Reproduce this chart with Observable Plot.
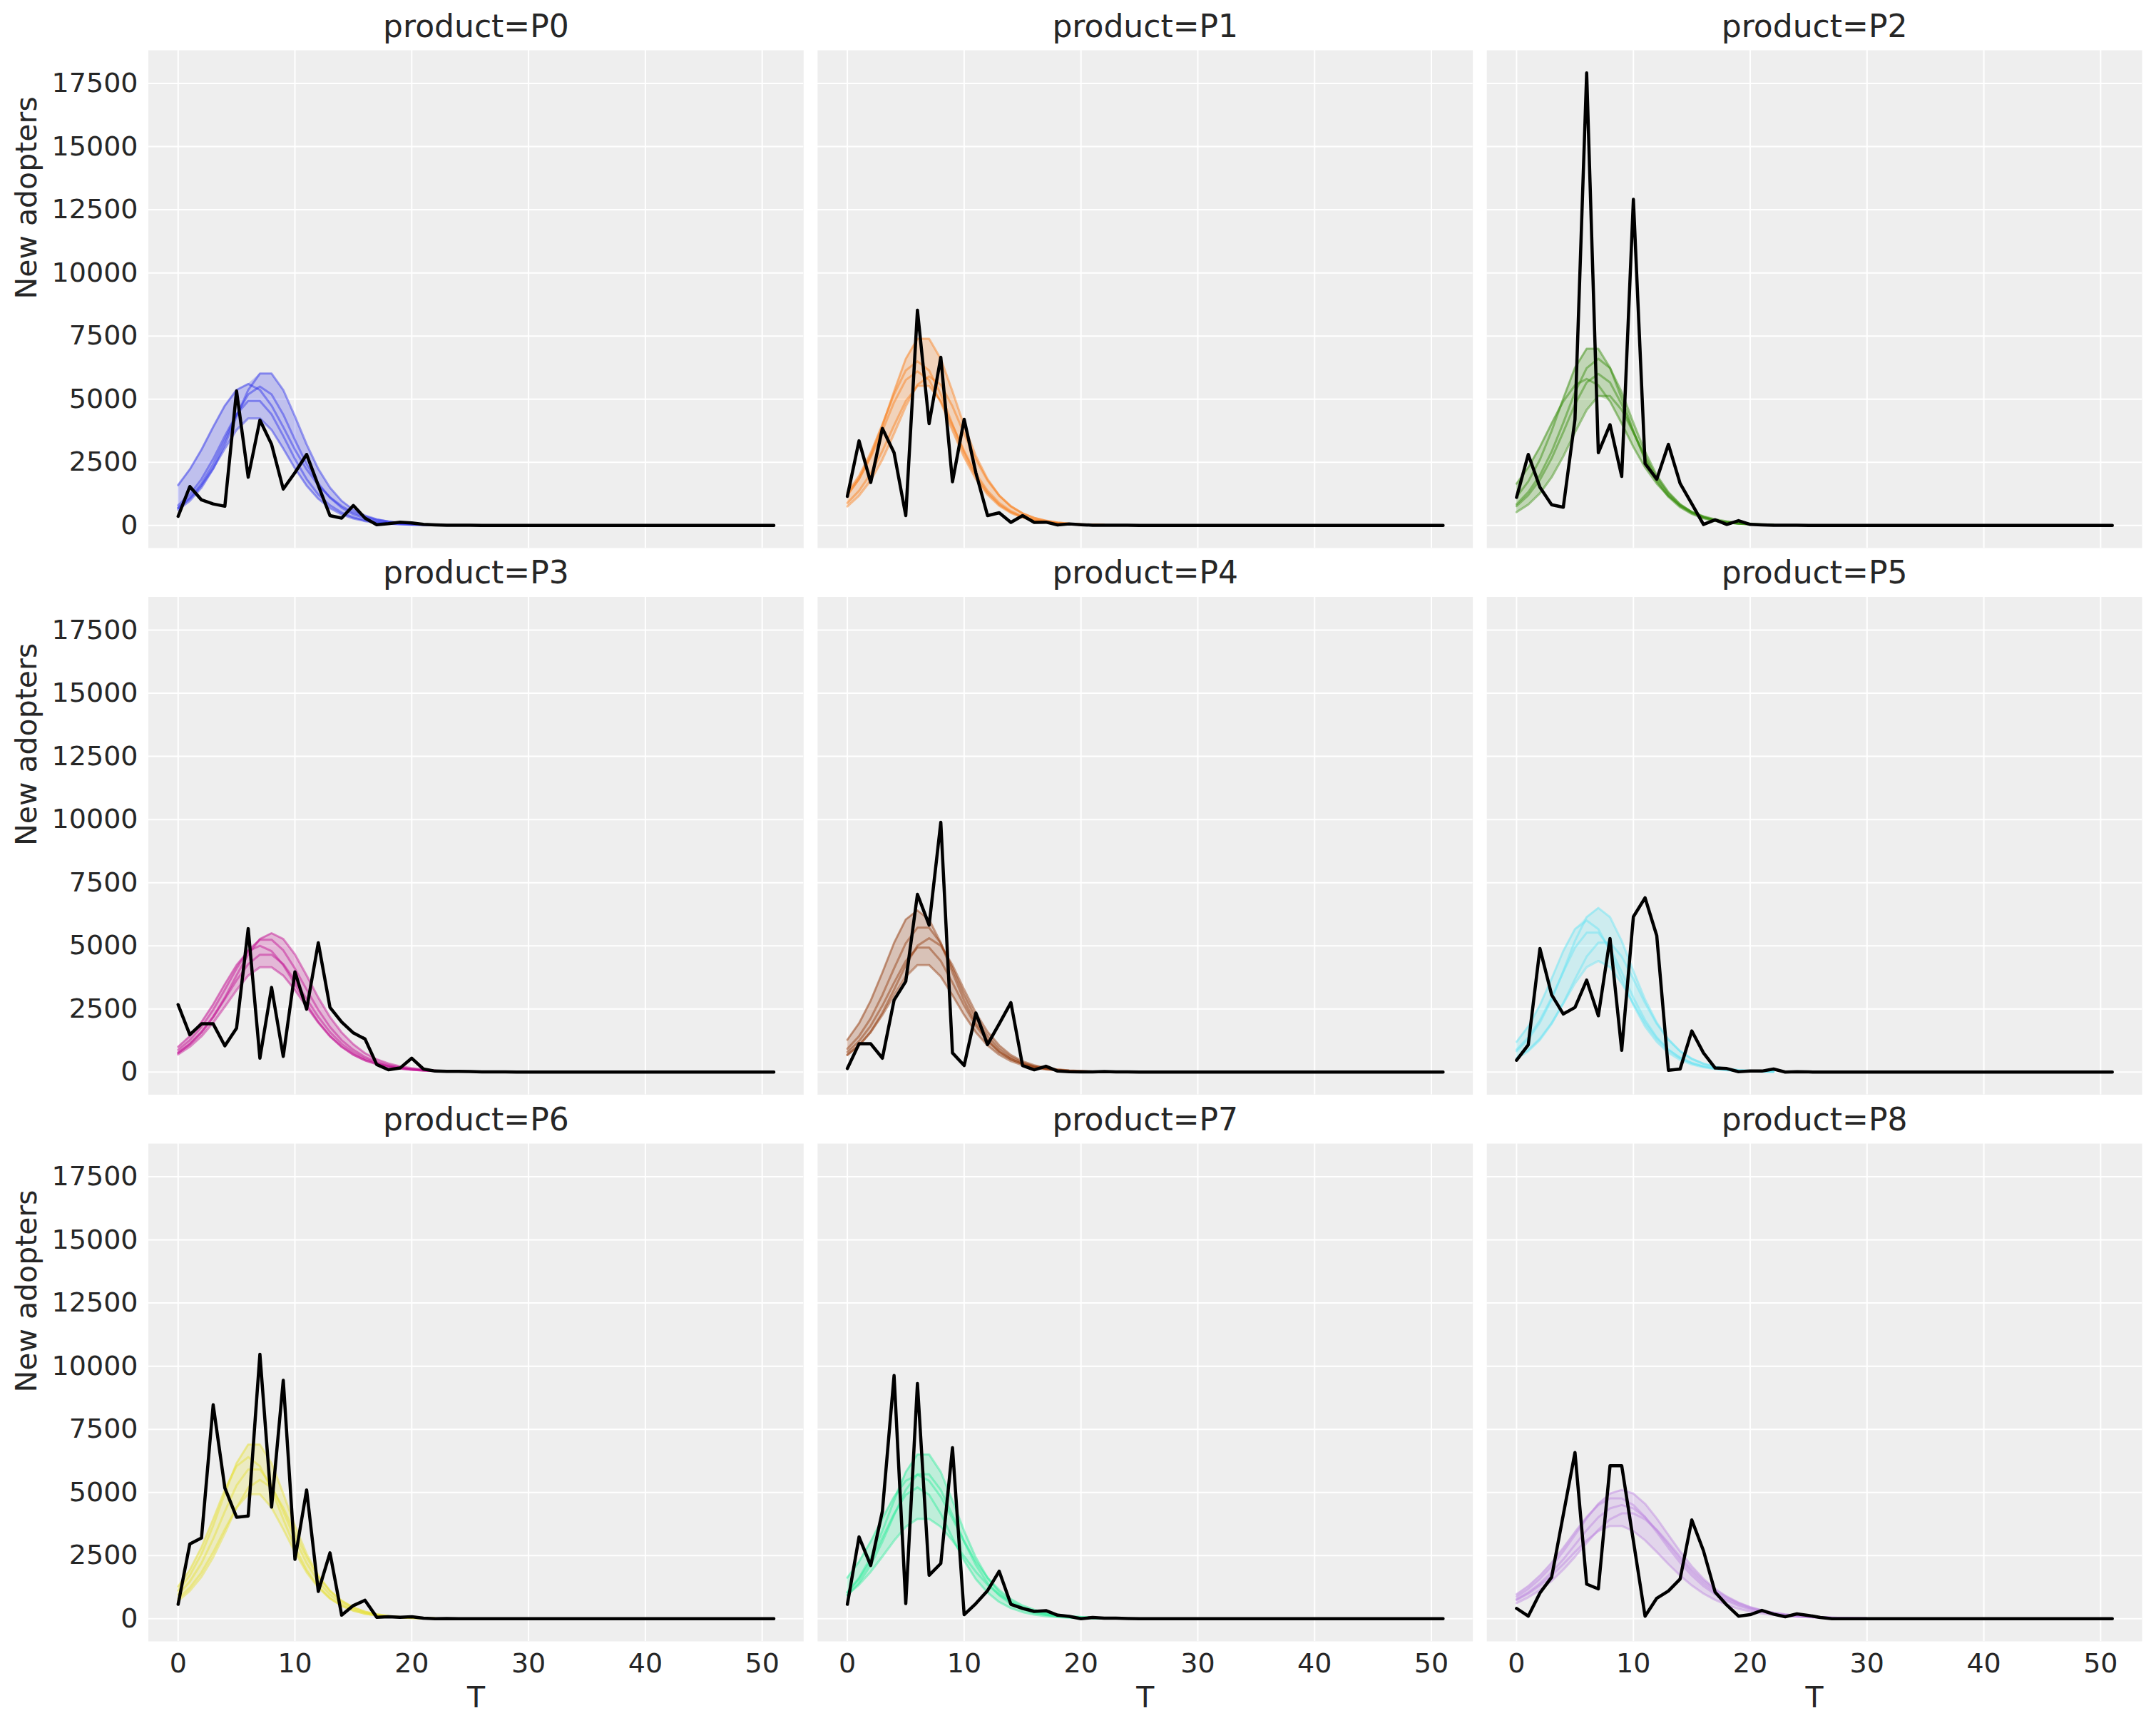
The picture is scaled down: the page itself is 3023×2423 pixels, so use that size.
<!DOCTYPE html>
<html>
<head>
<meta charset="utf-8">
<script src="https://cdn.jsdelivr.net/npm/d3@7"></script>
<script src="https://cdn.jsdelivr.net/npm/@observablehq/plot@0.6"></script>
<style>
  html, body { margin: 0; padding: 0; background: #ffffff; }
  svg { display: block; }
</style>
</head>
<body>
<div id="chart"></div>
<script>
// ---- categories, ticks, colours ----
const products = ["P0", "P1", "P2", "P3", "P4", "P5", "P6", "P7", "P8"];
const productColors = ["#2a2eec", "#fa7c17", "#328c06", "#c10c90", "#933708", "#65e5f3", "#e6e135", "#29ee9a", "#bd85e0"];
const xTicks = [0, 10, 20, 30, 40, 50];
const yTicks = [0, 2500, 5000, 7500, 10000, 12500, 15000, 17500];

// ---- observed new adopters (black line), T = 0..51 ----
const obsP0 = [360,1540,1010,850,760,5320,1910,4170,3210,1440,2090,2810,1580,390,290,790,290,30,70,130,100,40,20,10,10,5,
  0,0,0,0,0,0,0,0,0,0,0,0,0, 0,0,0,0,0,0,0,0,0,0,0,0,0];
const obsP1 = [1150,3350,1700,3840,2880,390,8520,4030,6660,1730,4200,2090,390,500,120,390,120,130,20,60,30,10,10,5,5,0,
  0,0,0,0,0,0,0,0,0,0,0,0,0, 0,0,0,0,0,0,0,0,0,0,0,0,0];
const obsP2 = [1110,2810,1510,820,720,4200,17918,2880,3990,1940,12910,2450,1830,3210,1660,860,40,220,40,190,40,20,10,5,5,0,
  0,0,0,0,0,0,0,0,0,0,0,0,0, 0,0,0,0,0,0,0,0,0,0,0,0,0];
const obsP3 = [2670,1480,1910,1910,1040,1740,5680,550,3350,620,3970,2490,5120,2560,1980,1550,1310,300,90,160,550,120,40,30,30,20,
  10,10,5,0,0,0,0,0,0,0,0,0,0, 0,0,0,0,0,0,0,0,0,0,0,0,0];
const obsP4 = [140,1120,1120,550,2850,3590,7040,5820,9890,760,260,2340,1090,1910,2750,260,90,230,40,15,10,10,20,10,5,0,
  0,0,0,0,0,0,0,0,0,0,0,0,0, 0,0,0,0,0,0,0,0,0,0,0,0,0];
const obsP5 = [470,1080,4890,3060,2300,2560,3640,2230,5290,860,6150,6900,5400,70,120,1630,760,160,140,15,40,40,120,0,15,5,
  0,0,0,0,0,0,0,0,0,0,0,0,0, 0,0,0,0,0,0,0,0,0,0,0,0,0];
const obsP6 = [570,2960,3200,8470,5180,4020,4070,10470,4420,9440,2350,5100,1080,2610,140,520,730,60,80,60,80,20,0,10,0,0,
  0,0,0,0,0,0,0,0,0,0,0,0,0, 0,0,0,0,0,0,0,0,0,0,0,0,0];
const obsP7 = [570,3240,2110,4260,9630,600,9310,1720,2190,6770,160,600,1110,1880,570,410,290,320,140,90,0,50,20,20,10,0,
  0,0,0,0,0,0,0,0,0,0,0,0,0, 0,0,0,0,0,0,0,0,0,0,0,0,0];
const obsP8 = [410,100,1020,1640,4120,6580,1370,1180,6060,6060,3080,100,810,1100,1570,3910,2690,1050,540,100,160,330,180,80,190,130,50,0,
  0,0,0,0,0,0,0,0,0,0,0,0, 0,0,0,0,0,0,0,0,0,0,0,0];

// ---- posterior predictive sample curves (coloured lines), T = 0.. ----
const postP0 = [
  [1596,2218,3002,3898,4743,5365,5600,5365,4743,3898,3002,2218,1596,1120,762,515,347,230,157,101,67,45,28],
  [619,971,1496,2237,3209,4319,5365,6012,6012,5365,4319,3209,2237,1496,971,619,389,243,153,95,59,36,22],
  [684,1054,1577,2262,3045,3782,4238,4238,3782,3045,2262,1577,1054,684,436,274,171,108,67,41,25,15,9],
  [796,1226,1834,2631,3541,4398,4928,4928,4398,3541,2631,1834,1226,796,507,319,199,126,78,48,30,18,11],
  [701,1098,1657,2431,3386,4394,5191,5500,5191,4394,3386,2431,1657,1098,701,443,279,173,107,67,41,25,16]
];
const postP1 = [
  [1193,1839,2750,3946,5311,6596,7391,7391,6596,5311,3946,2750,1839,1193,761,479,299,188,116,72,44,27,17],
  [1298,1958,2873,4001,5193,6135,6500,6135,5193,4001,2873,1958,1298,828,524,330,204,127,79,49,30,19,12],
  [891,1373,2054,2946,3965,4925,5519,5519,4925,3965,2946,2054,1373,891,568,357,223,141,87,54,33,20,12],
  [1218,1838,2696,3755,4873,5757,6100,5757,4873,3755,2696,1838,1218,777,492,309,192,119,74,46,28,18,11],
  [752,1178,1778,2608,3632,4714,5568,5900,5568,4714,3632,2608,1778,1178,752,476,299,185,115,71,44,27,17]
];
const postP2 = [
  [1130,1741,2604,3735,5028,6244,6997,6997,6244,5028,3735,2604,1741,1130,720,453,283,178,110,68,42,26,16],
  [764,1198,1808,2652,3694,4793,5663,6000,5663,4793,3694,2652,1808,1198,764,484,304,188,117,73,45,28,17],
  [527,827,1275,1907,2736,3682,4573,5125,5125,4573,3682,2736,1907,1275,827,527,332,207,131,81,50,31,19],
  [841,1318,1989,2917,4063,5273,6229,6600,6229,5273,4063,2917,1989,1318,841,532,335,207,129,80,50,30,19],
  [1653,2297,3109,4037,4913,5556,5800,5556,4913,4037,3109,2297,1653,1160,789,534,360,238,162,104,70,46,29]
];
const postP3 = [
  [748,1100,1568,2178,2948,3828,4659,5269,5500,5269,4659,3828,2948,2178,1568,1100,748,506,341,226,154,99,66],
  [880,1261,1786,2465,3265,4097,4823,5242,5242,4823,4097,3265,2465,1786,1261,880,594,408,270,180,117,80,53],
  [697,1000,1415,1953,2587,3247,3822,4154,4154,3822,3247,2587,1953,1415,1000,697,470,323,214,143,92,63,42],
  [780,1119,1584,2185,2895,3633,4277,4648,4648,4277,3633,2895,2185,1584,1119,780,526,362,240,160,103,71,47],
  [1000,1425,1980,2680,3480,4235,4790,5000,4790,4235,3480,2680,1980,1425,1000,680,460,310,205,140,90,60,40]
];
const postP4 = [
  [1278,1928,2829,3940,5113,6040,6400,6040,5113,3940,2829,1928,1278,815,516,324,200,125,77,48,29,18,12],
  [923,1422,2127,3051,4107,5101,5716,5716,5101,4107,3051,2127,1422,923,588,370,231,146,90,56,34,21,13],
  [684,1054,1577,2262,3045,3782,4238,4238,3782,3045,2262,1577,1054,684,436,274,171,108,67,41,25,15,9],
  [675,1058,1597,2343,3263,4234,5002,5300,5002,4234,3263,2343,1597,1058,675,427,269,167,103,64,40,24,15],
  [796,1226,1834,2631,3541,4398,4928,4928,4398,3541,2631,1834,1226,796,507,319,199,126,78,48,30,18,11]
];
const postP5 = [
  [828,1298,1958,2873,4001,5193,6135,6500,6135,5193,4001,2873,1958,1298,828,524,330,204,127,79,49,30,19],
  [891,1373,2054,2946,3965,4925,5519,5519,4925,3965,2946,2054,1373,891,568,357,223,141,87,54,33,20,12],
  [561,879,1326,1945,2709,3515,4153,4400,4153,3515,2709,1945,1326,879,561,355,223,138,86,53,33,20,13],
  [1198,1808,2652,3694,4793,5663,6000,5663,4793,3694,2652,1808,1198,764,484,304,188,117,73,45,28,17,11],
  [527,827,1275,1907,2736,3682,4573,5125,5125,4573,3682,2736,1907,1275,827,527,332,207,131,81,50,31,19]
];
const postP6 = [
  [1114,1716,2567,3683,4957,6157,6899,6899,6157,4957,3683,2567,1716,1114,710,447,279,176,109,67,41,25,15],
  [1278,1928,2829,3940,5113,6040,6400,6040,5113,3940,2829,1928,1278,815,516,324,200,125,77,48,29,18,12],
  [796,1226,1834,2631,3541,4398,4928,4928,4398,3541,2631,1834,1226,796,507,319,199,126,78,48,30,18,11],
  [701,1098,1657,2431,3386,4394,5191,5500,5191,4394,3386,2431,1657,1098,701,443,279,173,107,67,41,25,16],
  [955,1471,2200,3157,4249,5277,5913,5913,5277,4249,3157,2200,1471,955,608,383,239,151,93,58,35,22,13]
];
const postP7 = [
  [1050,1618,2421,3472,4674,5805,6504,6504,5805,4674,3472,2421,1618,1050,669,421,263,166,102,63,39,24,14],
  [1625,2257,3055,3967,4828,5461,5700,5461,4828,3967,3055,2257,1625,1140,775,524,353,234,160,103,68,46,29],
  [952,1348,1860,2464,3092,3640,3956,3956,3640,3092,2464,1860,1348,952,664,448,308,204,136,88,60,40,26],
  [1038,1567,2298,3201,4154,4908,5200,4908,4154,3201,2298,1567,1038,663,419,264,163,101,63,39,24,15,9],
  [923,1422,2127,3051,4107,5101,5716,5716,5101,4107,3051,2127,1422,923,588,370,231,146,90,56,34,21,13]
];
const postP8 = [
  [878,1181,1580,2077,2665,3316,3971,4553,4955,5100,4955,4553,3971,3316,2665,2077,1580,1181,878,638,463,334,239,172,123,88,63,44,32,22,16],
  [774,1042,1394,1833,2351,2926,3504,4017,4372,4500,4372,4017,3504,2926,2351,1833,1394,1042,774,563,408,294,211,152,108,77,55,39,28,20,14],
  [744,996,1319,1711,2161,2645,3104,3469,3673,3673,3469,3104,2645,2161,1711,1319,996,744,546,394,286,206,147,105,75,54,38,27,20,14,10],
  [620,845,1131,1498,1942,2453,3002,3523,3938,4170,4170,3938,3523,3002,2453,1942,1498,1131,845,620,447,324,234,167,120,86,61,44,31,22,16],
  [966,1292,1712,2220,2804,3431,4027,4501,4765,4765,4501,4027,3431,2804,2220,1712,1292,966,708,511,371,267,191,137,98,70,50,35,25,18,13]
];

// ---- tables built from the arrays ----
const obsList = [obsP0, obsP1, obsP2, obsP3, obsP4, obsP5, obsP6, obsP7, obsP8];
const postList = [postP0, postP1, postP2, postP3, postP4, postP5, postP6, postP7, postP8];

const obsRows = [], postRows = [], bandRows = [], panelRows = [];
products.forEach((p, i) => {
  const col = i % 3, row = Math.floor(i / 3);
  panelRows.push({product: p, col, row});
  obsList[i].forEach((v, t) => obsRows.push({product: p, col, row, T: t, value: v}));
  postList[i].forEach((s, k) => s.forEach((v, t) =>
    postRows.push({product: p, col, row, key: p + "-" + k, T: t, value: v})));
  const n = d3.max(postList[i], s => s.length);
  for (let t = 0; t < n; t++) {
    const vals = postList[i].map(s => s[t]).filter(v => v != null);
    bandRows.push({product: p, col, row, T: t, lo: d3.min(vals), hi: d3.max(vals)});
  }
});
const leftRows = panelRows.filter(d => d.col === 0);
const bottomRows = panelRows.filter(d => d.row === 2);

const chart = Plot.plot({
  width: 3023,
  height: 2423,
  marginTop: 70,
  marginRight: 20,
  marginBottom: 122,
  marginLeft: 207.5,
  style: {fontFamily: "'DejaVu Sans', sans-serif", fontSize: "38px", color: "#262626", background: "#ffffff", overflow: "visible"},
  x: {domain: [-2.55, 53.55]},
  y: {domain: [-896, 18814]},
  fx: {domain: [0, 1, 2], axis: null, paddingInner: 0.0208, paddingOuter: 0, round: false},
  fy: {domain: [0, 1, 2], axis: null, paddingInner: 0.0894, paddingOuter: 0, round: false},
  color: {domain: products, range: productColors},
  marks: [
    Plot.frame({fill: "#eeeeee", stroke: "none"}),
    Plot.gridX(xTicks, {stroke: "#ffffff", strokeOpacity: 1, strokeWidth: 2}),
    Plot.gridY(yTicks, {stroke: "#ffffff", strokeOpacity: 1, strokeWidth: 2}),
    Plot.areaY(bandRows, {fx: "col", fy: "row", x: "T", y1: "lo", y2: "hi", fill: "product", fillOpacity: 0.24}),
    Plot.line(postRows, {fx: "col", fy: "row", x: "T", y: "value", z: "key", stroke: "product", strokeOpacity: 0.45, strokeWidth: 3}),
    Plot.line(obsRows, {fx: "col", fy: "row", x: "T", y: "value", z: "product", stroke: "#000000", strokeWidth: 4.5}),
    Plot.axisX(xTicks, {tickSize: 0, tickPadding: 17, facetAnchor: "bottom", fontSize: 38, label: null}),
    Plot.axisY(yTicks, {tickSize: 0, tickPadding: 14.5, facetAnchor: "left", fontSize: 38, label: null, tickFormat: d3.format("d")}),
    Plot.text(panelRows, {fx: "col", fy: "row", text: d => "product=" + d.product, frameAnchor: "top", dy: -33, fontSize: 44, lineAnchor: "middle", fill: "#262626"}),
    Plot.text(leftRows, {fx: "col", fy: "row", text: () => "New adopters", frameAnchor: "left", dx: -170, rotate: -90, fontSize: 41, lineAnchor: "middle", fill: "#262626"}),
    Plot.text(bottomRows, {fx: "col", fy: "row", text: () => "T", frameAnchor: "bottom", dy: 79, fontSize: 41, lineAnchor: "middle", fill: "#262626"})
  ]
});
document.getElementById("chart").appendChild(chart);
</script>
</body>
</html>
